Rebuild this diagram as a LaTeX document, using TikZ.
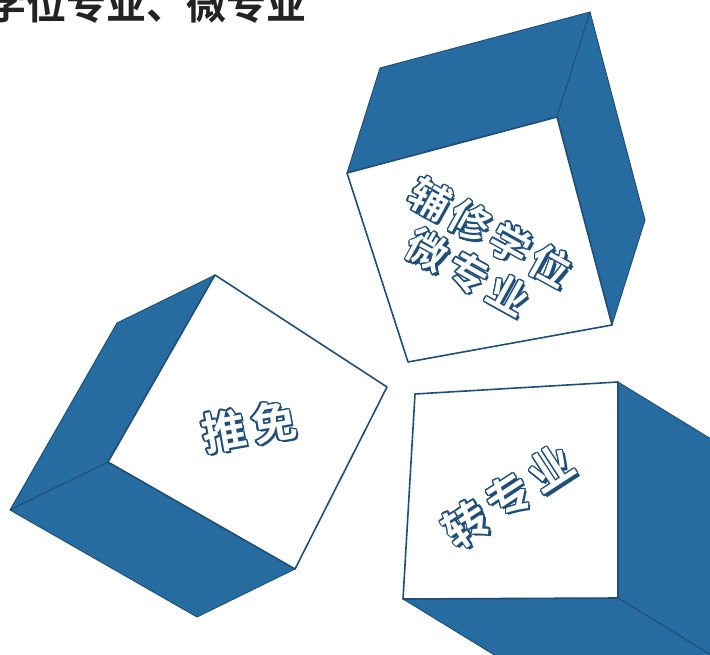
\documentclass[tikz,border=0pt]{standalone}
\usepackage{fontspec}
\usepackage{contour}
\newfontfamily\cjk{Noto Sans CJK SC}[BoldFont={Noto Sans CJK SC Bold}]
\newfontfamily\cjkwide{Noto Sans CJK SC Bold}[LetterSpace=15]
\definecolor{cubeblue}{RGB}{38,108,160}
\definecolor{cubeline}{RGB}{31,78,121}
\definecolor{titlegray}{RGB}{35,35,35}
\contourlength{1.3pt}
\newcommand{\cubelabel}[1]{\contour{cubeline}{\textcolor{white}{#1}}}
\newcommand{\cubeshade}[1]{\contour{white}{\textcolor{cubeline}{#1}}}

\begin{document}
\begin{tikzpicture}[x=1pt,y=-1pt,
    cubeside/.style={fill=cubeblue,draw=cubeline,line width=0.9pt,line join=round},
    cubefront/.style={fill=white,draw=cubeline,line width=1.6pt,line join=round},
    cubetext/.style={font=\cjkwide\fontsize{44}{44}\selectfont,inner sep=0pt,align=center},
    smalltext/.style={cubetext,font=\cjkwide\fontsize{40}{46}\selectfont},
    shadetext/.style={xshift=2.5pt,yshift=-2.5pt}]
    \useasboundingbox (0,0) rectangle (710,655);
    % title, cut at the left edge
    \node[font=\cjk\bfseries\fontsize{40}{40}\selectfont,text=titlegray,inner sep=0pt,anchor=base west] (title) at (-14,20) {学位专业、微专业};
    % top cube
    \coordinate (ta) at (347,173);
    \coordinate (tb) at (557,117);
    \coordinate (tc) at (612,325);
    \coordinate (td) at (408,362);
    \coordinate (ta2) at (380,68);
    \coordinate (tb2) at (590,12);
    \coordinate (tc2) at (645,220);
    \draw[cubeside] (ta) -- (tb) -- (tb2) -- (ta2) -- cycle;
    \draw[cubeside] (tb) -- (tc) -- (tc2) -- (tb2) -- cycle;
    \draw[cubefront] (ta) -- (tb) -- (tc) -- (td) -- cycle;
    % left cube
    \coordinate (la) at (215,275);
    \coordinate (lb) at (387,387);
    \coordinate (lc) at (295,569);
    \coordinate (ld) at (108,462);
    \coordinate (la2) at (117,323);
    \coordinate (lc2) at (197,617);
    \coordinate (ld2) at (10,510);
    \draw[cubeside] (la) -- (ld) -- (ld2) -- (la2) -- cycle;
    \draw[cubeside] (ld) -- (lc) -- (lc2) -- (ld2) -- cycle;
    \draw[cubefront] (la) -- (lb) -- (lc) -- (ld) -- cycle;
    % right cube, running off the page
    \coordinate (ra) at (415,394);
    \coordinate (rb) at (618,382);
    \coordinate (rc) at (618,598);
    \coordinate (rd) at (403,599);
    \coordinate (rb2) at (778,480);
    \coordinate (rc2) at (778,696);
    \coordinate (rd2) at (563,697);
    \draw[cubeside] (rb) -- (rc) -- (rc2) -- (rb2) -- cycle;
    \draw[cubeside] (rd) -- (rc) -- (rc2) -- (rd2) -- cycle;
    \draw[cubefront] (ra) -- (rb) -- (rc) -- (rd) -- cycle;
    % labels on the front faces
    \node[smalltext,shadetext,rotate=-29] (fuxiu2) at (479,253) {\cubeshade{辅修学位}\\\cubeshade{微专业}};
    \node[smalltext,rotate=-29] (fuxiu) at (479,253) {\cubelabel{辅修学位}\\\cubelabel{微专业}};
    \node[cubetext,shadetext,rotate=10] (tuimian2) at (249,427) {\cubeshade{推免}};
    \node[cubetext,rotate=10] (tuimian) at (249,427) {\cubelabel{推免}};
    \node[cubetext,shadetext,rotate=33] (zhuan2) at (509,497) {\cubeshade{转专业}};
    \node[cubetext,rotate=33] (zhuan) at (509,497) {\cubelabel{转专业}};
\end{tikzpicture}
\end{document}
